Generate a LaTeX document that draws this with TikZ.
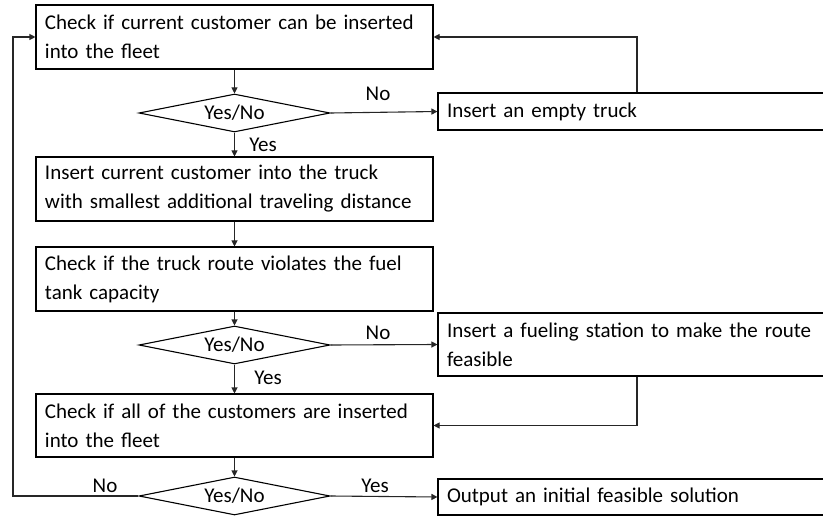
\documentclass[tikz,border=0pt]{standalone}
\usepackage{fontspec}
\setmainfont{Carlito}
\usetikzlibrary{arrows.meta,shapes.geometric}
\begin{document}
\begin{tikzpicture}[x=1pt,y=-1pt,
  every node/.style={font=\fontsize{21}{29}\selectfont},
  box/.style={draw=black, line width=1.1pt, rectangle, inner sep=0pt, align=left},
  dec/.style={draw=black, line width=1.1pt, diamond, aspect=5, inner sep=0pt, minimum width=191pt, minimum height=38pt},
  conn/.style={draw=black!85, line width=1.1pt, -{Triangle[length=6pt,width=6pt]}},
  lab/.style={inner sep=0pt}]
\useasboundingbox (0,0) rectangle (823,516);
\node[box, minimum width=397pt, minimum height=64pt, text width=379pt] (b1) at (234.5,37) {Check if current customer can be inserted\\into the fleet};
\node[dec] (d1) at (234.5,113) {Yes/No};
\node[box, minimum width=386pt, minimum height=37pt, text width=368pt] (empty) at (631,111.5) {Insert an empty truck};
\node[box, minimum width=397pt, minimum height=64pt, text width=379pt] (b2) at (234.5,189) {Insert current customer into the truck\\with smallest additional traveling distance};
\node[box, minimum width=397pt, minimum height=64pt, text width=379pt] (b3) at (234.5,279) {Check if the truck route violates the fuel\\tank capacity};
\node[dec] (d2) at (234.5,345) {Yes/No};
\node[box, minimum width=386pt, minimum height=63pt, text width=368pt] (fuel) at (631,344.5) {Insert a fueling station to make the route\\feasible};
\node[box, minimum width=397pt, minimum height=63pt, text width=379pt] (b4) at (234.5,425.5) {Check if all of the customers are inserted\\into the fleet};
\node[dec] (d3) at (234.5,496) {Yes/No};
\node[box, minimum width=386pt, minimum height=36pt, text width=368pt] (out) at (631,497) {Output an initial feasible solution};
\coordinate (L) at (13,496);
\draw[conn] (b1.south) -- (d1.north);
\draw[conn] (d1.east) -- (empty.west);
\draw[conn] ([xshift=6pt]empty.north) |- (b1.east);
\draw[conn] (d1.south) -- (b2.north);
\draw[conn] (b2.south) -- (b3.north);
\draw[conn] (b3.south) -- (d2.north);
\draw[conn] (d2.east) -- (fuel.west);
\draw[conn] (d2.south) -- (b4.north);
\draw[conn] ([xshift=6pt]fuel.south) |- (b4.east);
\draw[conn] (b4.south) -- (d3.north);
\draw[conn] (d3.east) -- (out.west);
\draw[conn] (d3.west) -- (L) |- (b1.west);
\node[lab] (n1) at (378,94) {No};
\node[lab] (y1) at (263,145) {Yes};
\node[lab] (n2) at (378,333) {No};
\node[lab] (y2) at (268,378) {Yes};
\node[lab] (n3) at (105,486) {No};
\node[lab] (y3) at (375,486) {Yes};
\end{tikzpicture}
\end{document}
